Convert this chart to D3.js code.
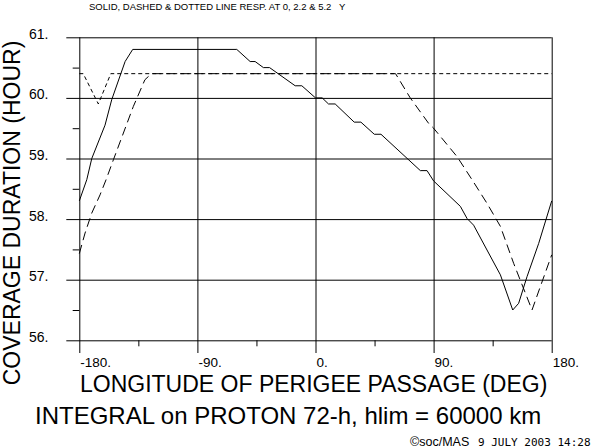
<!DOCTYPE html>
<html><head><meta charset="utf-8">
<script src="https://cdn.jsdelivr.net/npm/d3@7/dist/d3.min.js"></script>
<style>
html,body{margin:0;padding:0;background:#fff;}
svg{display:block;}
text{font-family:"Liberation Sans",Arial,Helvetica,sans-serif;fill:#000;}
</style></head>
<body>
<script>
// ---- data ----
const titleText = "SOLID, DASHED & DOTTED LINE RESP. AT 0, 2.2 & 5.2   Y";
const xLabel = "LONGITUDE OF PERIGEE PASSAGE (DEG)";
const yLabel = "COVERAGE DURATION (HOUR)";
const bottomTitle = "INTEGRAL on PROTON 72-h, hlim = 60000 km";
const footerLogo = "©soc/MAS";
const footerDate = "9 JULY 2003 14:28";

const xMajorTicks = [-180, -90, 0, 90, 180];
const xMinorTicks = [-135, -45, 45, 135];
const yMajorTicks = [56, 57, 58, 59, 60, 61];
const yMinorTicks = [56.5, 57.5, 58.5, 59.5, 60.5];

// solid line: 0 Y
const solidLon = [-180, -174.3, -170.5, -160.4, -155.3, -145.1, -139.3, -60, -49.8, -46, -39.7, -35, -15.5, -10.4, 0, 5.1, 9.9, 15, 29.5, 34.6, 44.8, 49.9, 79.9, 85, 90, 110.4, 115.5, 120.5, 140.9, 150.3, 154.8, 161.2, 170.1, 180];
const solidVal = [58.3, 58.65, 59.0, 59.55, 59.97, 60.6, 60.8, 60.8, 60.6, 60.6, 60.5, 60.5, 60.2, 60.2, 60.0, 60.0, 59.9, 59.9, 59.6, 59.6, 59.4, 59.4, 58.8, 58.8, 58.63, 58.21, 58.01, 57.9, 57.08, 56.5, 56.61, 57.05, 57.6, 58.3];

// dashed line: 2.2 Y
const dashedLon = [-180, -175.6, -170.5, -164.2, -159.6, -154, -138.8, -130, -125, 61, 72.2, 86.2, 90, 107.9, 119.3, 130.7, 140.9, 151, 165, 171.4, 180];
const dashedVal = [57.43, 57.77, 58.10, 58.40, 58.65, 58.98, 59.86, 60.3, 60.4, 60.4, 60.0, 59.58, 59.5, 59.03, 58.65, 58.26, 57.88, 57.27, 56.5, 56.89, 57.41];

// dotted line: 5.2 Y
const dottedLon = [-180, -177, -165.5, -156, 180];
const dottedVal = [60.4, 60.4, 59.9, 60.4, 60.4];

// ---- drawing ----
const W = 601, H = 448;
const svg = d3.select("body").append("svg").attr("width", W).attr("height", H);

const x = d3.scaleLinear().domain([-180, 180]).range([79.3, 551.7]);
const y = d3.scaleLinear().domain([56, 61]).range([340.3, 37.3]);
const leftExt = 66.3;

// horizontal grid + left ticks + labels
const yAxis = d3.axisLeft(y).tickValues(yMajorTicks)
  .tickSize(x(180) - leftExt).tickPadding(66.3 - 48.5)
  .tickFormat(d => d + ".");
const gy = svg.append("g").attr("transform", `translate(${x(180)},0)`).call(yAxis);
gy.select(".domain").remove();
gy.selectAll("line").attr("stroke", "#000").attr("stroke-width", 1);
gy.selectAll("text").attr("dy", "0.07em").style("font-size", "14px")
  .attr("fill", "#000").style("font-family", '"Liberation Sans",Arial,sans-serif');

// y minor ticks
const yMinor = d3.axisLeft(y).tickValues(yMinorTicks).tickSize(6.6).tickFormat("");
const gym = svg.append("g").attr("transform", `translate(${x(-180)},0)`).call(yMinor);
gym.select(".domain").remove();
gym.selectAll("line").attr("stroke", "#000");

// vertical grid + bottom ticks + labels
const xAxis = d3.axisBottom(x).tickValues(xMajorTicks)
  .tickSize(353 - y(61)).tickFormat(d => d + ".");
const gx = svg.append("g").attr("transform", `translate(0,${y(61)})`).call(xAxis);
gx.select(".domain").remove();
gx.selectAll("line").attr("stroke", "#000");
gx.selectAll("text").attr("text-anchor", "start").attr("y", 367.5 - y(61)).attr("dy", 0)
  .attr("x", 0.5).style("font-size", "13.5px")
  .style("font-family", '"Liberation Sans",Arial,sans-serif').attr("fill", "#000");

// x minor ticks
const xMinor = d3.axisBottom(x).tickValues(xMinorTicks).tickSize(6).tickFormat("");
const gxm = svg.append("g").attr("transform", `translate(0,${y(56)})`).call(xMinor);
gxm.select(".domain").remove();
gxm.selectAll("line").attr("stroke", "#000");

// lines
const line = d3.line().x(d => x(d[0])).y(d => y(d[1]));
const solid = d3.zip(solidLon, solidVal);
const dashed = d3.zip(dashedLon, dashedVal);
const dotted = d3.zip(dottedLon, dottedVal);

svg.append("path").datum(dotted).attr("d", line)
  .attr("fill", "none").attr("stroke", "#000").attr("stroke-width", 1)
  .attr("stroke-dasharray", "4,3");
svg.append("path").datum(dashed).attr("d", line)
  .attr("fill", "none").attr("stroke", "#000").attr("stroke-width", 1)
  .attr("stroke-dasharray", "9,5");
svg.append("path").datum(solid).attr("d", line)
  .attr("fill", "none").attr("stroke", "#000").attr("stroke-width", 1);

// texts
svg.append("text").attr("x", 89).attr("y", 10).style("font-size", "9.5px")
  .style("white-space", "pre").text(titleText);

svg.append("text").attr("x", 80).attr("y", 392).style("font-size", "23px")
  .text(xLabel);

svg.append("text").attr("transform", "translate(20,213) rotate(-90)")
  .attr("text-anchor", "middle").style("font-size", "23px").text(yLabel);

svg.append("text").attr("x", 35).attr("y", 424).style("font-size", "24px")
  .text(bottomTitle);

svg.append("text").attr("x", 410).attr("y", 446).style("font-size", "12.5px")
  .text(footerLogo);
svg.append("text").attr("x", 478).attr("y", 446).style("font-size", "11px")
  .style("font-family", '"DejaVu Sans Mono",monospace').text(footerDate);
</script>
</body></html>
